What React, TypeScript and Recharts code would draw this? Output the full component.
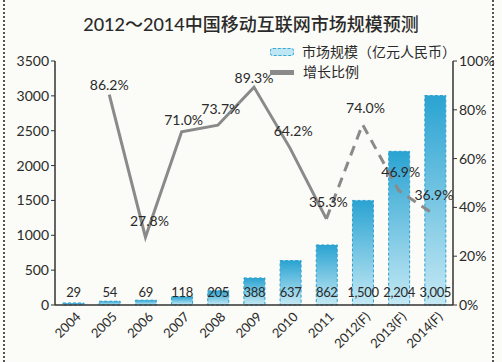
import React from "react";
import {
  ComposedChart,
  Bar,
  Line,
  XAxis,
  YAxis,
  LabelList,
} from "recharts";

const years = ["2004", "2005", "2006", "2007", "2008", "2009", "2010", "2011", "2012(F)", "2013(F)", "2014(F)"];
const marketSize = [29, 54, 69, 118, 205, 388, 637, 862, 1500, 2204, 3005];
const growthActual: (number | null)[] = [null, 86.2, 27.8, 71.0, 73.7, 89.3, 64.2, 35.3, null, null, null];
const growthForecast: (number | null)[] = [null, null, null, null, null, null, null, 35.3, 74.0, 46.9, 36.9];
const leftTicks = [0, 500, 1000, 1500, 2000, 2500, 3000, 3500];
const rightTicks = [0, 20, 40, 60, 80, 100];
const legendLabels = ["市场规模（亿元人民币）", "增长比例"];

const data = years.map((y, i) => ({
  year: y,
  size: marketSize[i],
  actual: growthActual[i],
  forecast: growthForecast[i],
}));

const FONT = "Lato, 'Noto Sans CJK SC', sans-serif";
const TXT = "#2a2a2a";

const lineLabelOffsets: Record<number, [number, number]> = {
  1: [0, -10],
  2: [4, -17],
  3: [2, -12],
  4: [3, -17],
  5: [0, -10],
  6: [3, -18],
  7: [2, -17],
  8: [3, -17],
  9: [2, -19],
  10: [-1, -20],
};

const makeLineLabel = (skip: number[]) => (props: any) => {
  const { x, y, value, index } = props;
  if (value == null || skip.includes(index)) return null;
  const [dx, dy] = lineLabelOffsets[index] || [0, -12];
  return (
    <text
      x={x + dx}
      y={y + dy}
      textAnchor="middle"
      dominantBaseline="central"
      fontSize={14}
      fontFamily={FONT}
      fill={TXT}
    >
      {Number(value).toFixed(1)}%
    </text>
  );
};

const BarValueLabel = (props: any) => {
  const { x, y, width, height, value } = props;
  const bottom = y + height;
  return (
    <text
      x={x + width / 2}
      y={bottom - 8}
      textAnchor="middle"
      fontSize={13}
      letterSpacing={-0.3}
      fontFamily={FONT}
      fill={TXT}
    >
      {Number(value).toLocaleString("en-US")}
    </text>
  );
};

const XTick = (props: any) => {
  const { x, y, payload } = props;
  return (
    <g transform={`translate(${x + 5},${y + 1})`}>
      <text
        transform="rotate(-45)"
        textAnchor="end"
        dominantBaseline="central"
        fontSize={13}
        fontFamily={FONT}
        fill={TXT}
      >
        {payload.value}
      </text>
    </g>
  );
};

const LegendBox = () => (
  <div
    style={{
      position: "absolute",
      left: 270,
      top: 42,
      fontFamily: FONT,
      fontSize: 14,
      color: TXT,
      lineHeight: "20px",
    }}
  >
    <div style={{ display: "flex", alignItems: "center" }}>
      <span
        style={{
          display: "inline-block",
          width: 22,
          height: 6,
          border: "1px dashed #3aa8d4",
          borderRadius: 3,
          background: "#bfe6f3",
          marginRight: 8,
        }}
      />
      {legendLabels[0]}
    </div>
    <div style={{ display: "flex", alignItems: "center" }}>
      <span
        style={{
          display: "inline-block",
          width: 24,
          height: 5,
          background: "#8a8a8a",
          marginRight: 9,
        }}
      />
      {legendLabels[1]}
    </div>
  </div>
);

export default function App() {
  return (
    <div
      style={{
        position: "absolute",
        left: 0,
        top: 0,
        width: 502,
        height: 362,
        background: "#fbfbf7",
        overflow: "hidden",
      }}
    >
      <div
        style={{
          position: "absolute",
          left: 3,
          top: 0,
          width: 491,
          height: 362,
          borderLeft: "2px dotted #555",
          borderRight: "2px dotted #555",
          boxSizing: "border-box",
        }}
      />
      <div
        style={{
          position: "absolute",
          top: 10,
          left: 0,
          width: 502,
          textAlign: "center",
          fontFamily: FONT,
          fontSize: 18,
          fontWeight: 500,
          color: "#2a2a2a",
        }}
      >
        2012～2014中国移动互联网市场规模预测
      </div>
      <div style={{ position: "absolute", left: 0, top: 0 }}>
        <ComposedChart
          width={502}
          height={362}
          data={data}
          margin={{ top: 61, right: 4, bottom: 7, left: 5 }}
          barCategoryGap={15}
        >
          <defs>
            <linearGradient id="barGrad" x1="0" y1="0" x2="0" y2="1">
              <stop offset="0%" stopColor="#2aa3d2" />
              <stop offset="100%" stopColor="#c5e9f4" />
            </linearGradient>
          </defs>
          <XAxis
            dataKey="year"
            height={50}
            interval={0}
            tickLine={false}
            axisLine={{ stroke: "#333", strokeWidth: 1.5 }}
            tick={<XTick />}
          />
          <YAxis
            yAxisId="left"
            width={50}
            domain={[0, 3500]}
            ticks={leftTicks}
            tickSize={4}
            tickLine={{ stroke: "#333" }}
            axisLine={{ stroke: "#333", strokeWidth: 1.5 }}
            tick={{ fontSize: 14, fontFamily: FONT, fill: TXT }}
          />
          <YAxis
            yAxisId="right"
            orientation="right"
            width={45}
            domain={[0, 100]}
            ticks={rightTicks}
            tickSize={4}
            tickFormatter={(v: number) => `${v}%`}
            tickLine={{ stroke: "#333" }}
            axisLine={{ stroke: "#333", strokeWidth: 1.5 }}
            tick={{ fontSize: 14, fontFamily: FONT, fill: TXT }}
          />
          <Bar
            yAxisId="left"
            dataKey="size"
            barSize={21}
            fill="url(#barGrad)"
            stroke="#2fa0d0"
            strokeWidth={1}
            strokeDasharray="3 2"
            isAnimationActive={false}
          >
            <LabelList dataKey="size" content={BarValueLabel} />
          </Bar>
          <Line
            yAxisId="right"
            dataKey="actual"
            stroke="#8a8a8a"
            strokeWidth={3}
            dot={false}
            activeDot={false}
            connectNulls={false}
            isAnimationActive={false}
          >
            <LabelList dataKey="actual" content={makeLineLabel([])} />
          </Line>
          <Line
            yAxisId="right"
            dataKey="forecast"
            stroke="#8a8a8a"
            strokeWidth={3}
            strokeDasharray="10 7"
            dot={false}
            activeDot={false}
            connectNulls={false}
            isAnimationActive={false}
          >
            <LabelList dataKey="forecast" content={makeLineLabel([7])} />
          </Line>
        </ComposedChart>
      </div>
      <LegendBox />
    </div>
  );
}
